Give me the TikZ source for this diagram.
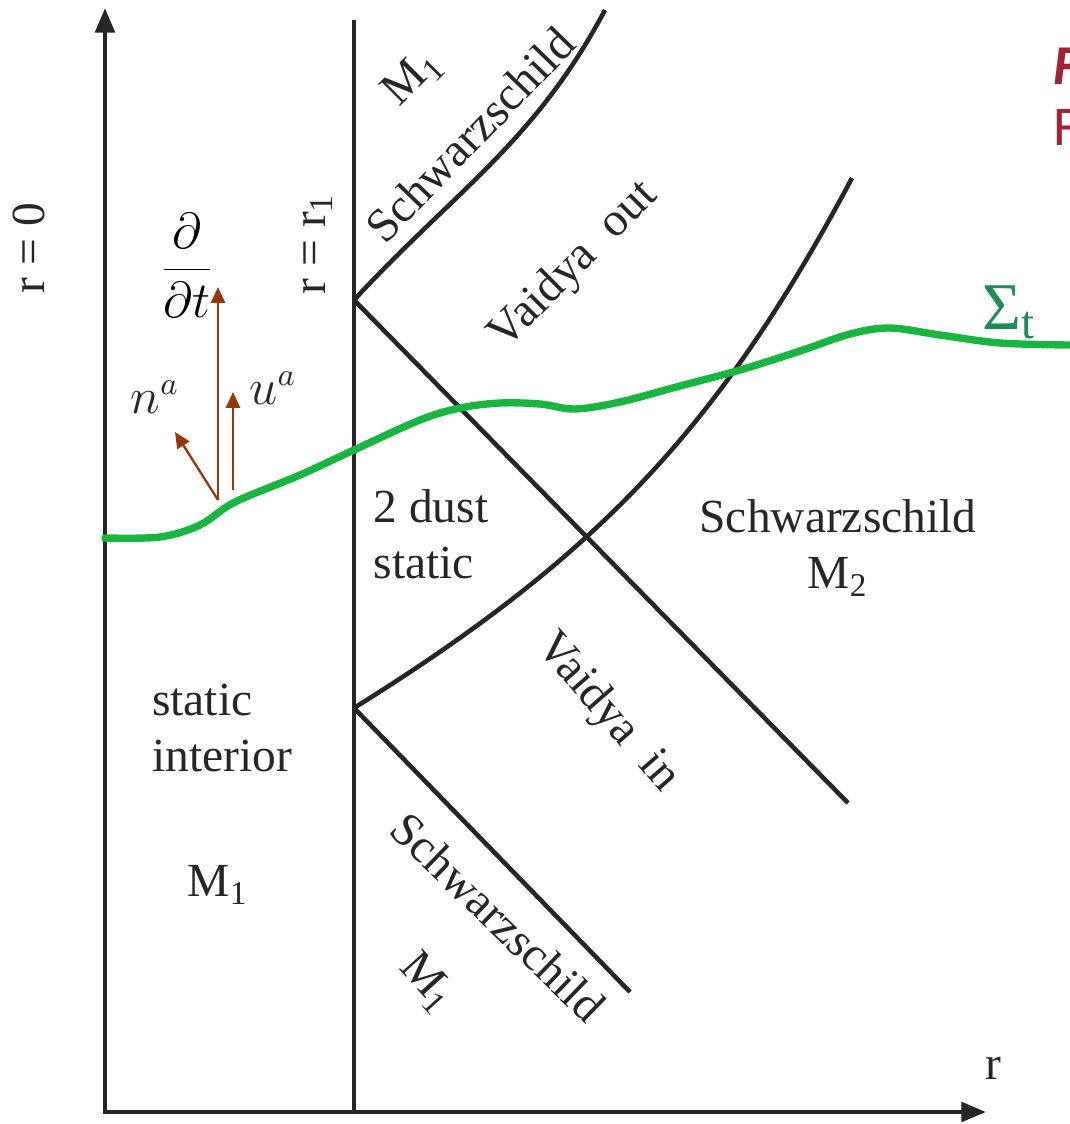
\documentclass[tikz,border=0pt]{standalone}
\usepackage{fontspec}
\setmainfont{Liberation Serif}
\newfontfamily\slidefont{Carlito}
\usetikzlibrary{arrows.meta}
\definecolor{slicegreen}{RGB}{24,182,64}
\definecolor{sigmagreen}{RGB}{30,140,85}
\definecolor{vecbrown}{RGB}{150,55,10}
\definecolor{slidered}{RGB}{160,35,55}
\tikzset{
  axis/.style = {
    {Triangle[length=7pt,width=5.5pt]}-{Triangle[length=7pt,width=5.5pt]},
    line width=1.3pt, black!85
  },
  bdry/.style  = {line width=1.3pt, black!85},
  slice/.style = {line width=2.1pt, slicegreen, line cap=round},
  vec/.style   = {-{Triangle[length=4.5pt,width=4pt]}, vecbrown, line width=0.65pt},
  lbl/.style   = {inner sep=0pt, black!85, font=\fontsize{13.5}{16}\selectfont},
  slide/.style = {inner sep=0pt, anchor=base west, slidered, font=\slidefont\fontsize{16}{18}\selectfont}
}

\begin{document}
\begin{tikzpicture}[x=0.01cm, y=-0.01cm]
  \useasboundingbox (0,0) rectangle (1069,1124);
  \coordinate (O)  at (105,1112);
  \coordinate (T)  at (105,8);
  \coordinate (R)  at (986,1112);
  \coordinate (Wb) at (354,1112);
  \coordinate (Wt) at (354,20);
  \coordinate (P)  at (354,300);
  \coordinate (Q)  at (354,708);
  \coordinate (Ps) at (605,10);
  \coordinate (Pv) at (848,803);
  \coordinate (Qv) at (852,178);
  \coordinate (Qs) at (630,992);

  %% Axes and the worldline r = r1
  \draw[axis] (T) -- (O) -- (R);
  \draw[bdry] (Wb) -- (Wt);

  %% Null shells
  \draw[bdry] (P) .. controls (456,190) and (535,142) .. (Ps);
  \draw[bdry] (P) -- (Pv);
  \draw[bdry] (Q) .. controls (596,557) and (718,430) .. (Qv);
  \draw[bdry] (Q) -- (Qs);

  %% Slice Sigma_t
  \draw[slice] plot[smooth, tension=0.55] coordinates {
    (105,538) (160,537) (200,525) (235,502) (300,475) (354,450)
    (420,420) (460,408) (500,403) (540,404) (575,409) (620,402)
    (680,386) (740,370) (800,351) (850,334) (890,328) (940,335)
    (1000,343) (1069,345)};
  \node[inner sep=0pt, sigmagreen, font=\fontsize{19}{20}\selectfont] (sig) at (1009,312) {Σ\textsubscript{t}};

  %% Vectors at the slice
  \coordinate (foot)  at (218,500);
  \coordinate (ufoot) at (233,490);
  \coordinate (dt) at (218,287);
  \coordinate (n)  at (175,432);
  \coordinate (u)  at (233,392);
  \draw[vec] (foot) -- (dt);
  \draw[vec] (foot) -- (n);
  \draw[vec] (ufoot) -- (u);
  \node[inner sep=0pt, font=\fontsize{14}{16}\selectfont] (dtlbl) at (187,265) {$\displaystyle\frac{\partial}{\partial t}$};
  \node[lbl] (nlbl) at (155,397) {$n^a$};
  \node[lbl] (ulbl) at (273,388) {$u^a$};

  %% Axis labels
  \node[lbl, rotate=90] (r0)  at (29,248)   {r = 0};
  \node[lbl, rotate=90] (r1)  at (318,244)  {r = r\textsubscript{1}};
  \node[lbl]            (rax) at (993,1068) {r};

  %% Regions
  \node[lbl, rotate=45]  (m1up)  at (413,78)  {M\textsubscript{1}};
  \node[lbl, rotate=46]  (schup) at (470,135) {Schwarzschild};
  \node[lbl, rotate=45]  (vout)  at (574,266) {Vaidya\ \ out};
  \node[lbl, align=left] (dust)  at (431,534) {2 dust\\static};
  \node[lbl, align=center] (sch2) at (838,548) {Schwarzschild\\M\textsubscript{2}};
  \node[lbl, rotate=-49] (vin)   at (607,713) {Vaidya\ \ in};
  \node[lbl, align=left] (inter) at (222,728) {static\\interior};
  \node[lbl]             (m1in)  at (218,885) {M\textsubscript{1}};
  \node[lbl, rotate=-44] (schlo) at (498,917) {Schwarzschild};
  \node[lbl, rotate=-48] (m1lo)  at (427,983) {M\textsubscript{1}};

  %% Cut-off slide text
  \node[slide] (fa) at (1053,84)  {\bfseries\itshape F};
  \node[slide] (fb) at (1053,145) {F};
\end{tikzpicture}
\end{document}
